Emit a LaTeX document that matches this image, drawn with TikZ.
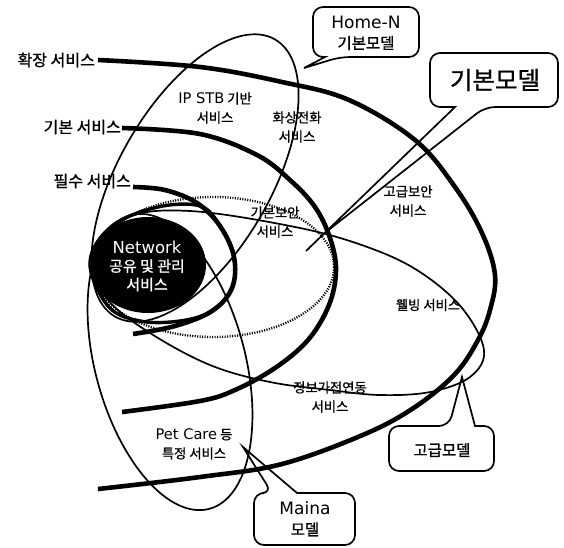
\documentclass[tikz,border=0pt]{standalone}
\usepackage{fontspec}
\setmainfont{Noto Sans CJK KR}[FakeBold=0.9]
\newfontfamily\lat{DejaVu Sans}[Scale=1.1]
\begin{document}
\begin{tikzpicture}[x=1pt,y=-1pt,
  thickc/.style={line width=4.6pt},
  ringc/.style={line width=3.4pt},
  thinc/.style={line width=1.7pt},
  dotc/.style={line width=2.3pt, dash pattern=on 1.1pt off 1.4pt},
  callout/.style={line width=1.7pt},
  lab/.style={inner sep=0pt, align=center, font=\fontsize{13.3}{19}\selectfont},
  side/.style={inner sep=0pt, anchor=east, font=\fontsize{16}{18}\selectfont},
  boxlab/.style={inner sep=0pt, align=center, font=\fontsize{15.5}{20.5}\selectfont}]
\useasboundingbox (0,0) rectangle (564,547);

% black network ellipse
\fill (148,265) ellipse [x radius=58, y radius=48];

% thin ellipses
\draw[thinc, rotate around={60:(195,178)}] (195,178) ellipse [x radius=160, y radius=76];
\draw[thinc, rotate around={105:(170,362)}] (170,362) ellipse [x radius=152, y radius=75];

% dotted ellipse
\draw[dotc] (213,267) ellipse [x radius=121, y radius=70];

% thin advanced loop
\draw[thinc] plot[smooth cycle, tension=0.6] coordinates {
  (90,262) (125,219) (190,211) (300,228) (370,248) (420,272) (462,308)
  (484,350) (470,377) (430,392) (380,395) (330,390) (270,382) (210,365)
  (150,333) (108,300)};

% thick ring around network
\draw[ringc] plot[smooth cycle, tension=0.6] coordinates {
  (90,262) (112,226) (158,207) (200,206) (220,226) (234,257) (232,288)
  (212,311) (180,321) (140,321) (108,306)};

% thick service curves
\draw[thickc] plot[smooth, tension=0.6] coordinates {
  (98,60) (200,67) (282,82) (349,100) (415,140) (455,187) (482,233)
  (495,275) (490,310) (478,340) (455,374) (415,407) (365,434) (282,464)
  (200,477) (98,489)};
\draw[thickc] plot[smooth, tension=0.6] coordinates {
  (122,128) (200,134) (257,155) (290,180) (315,207) (330,238) (336,270)
  (329,305) (308,340) (275,368) (235,390) (200,401) (122,412)};
\draw[thickc] plot[smooth, tension=0.6] coordinates {
  (133,187) (165,190) (197,203) (220,226) (234,257) (232,288) (212,311)
  (175,326) (133,334)};

% side labels
\node[side] (t1) at (95,60) {확장 서비스};
\node[side] (t2) at (121,127) {기본 서비스};
\node[side] (t3) at (131,181) {필수 서비스};

% interior labels
\node[lab] (ipstb) at (215,108) {{\lat IP STB} 기반\\서비스};
\node[lab] (video) at (297,127) {화상전화\\서비스};
\node[lab] (basicsec) at (275,222) {기본보안\\서비스};
\node[lab] (advsec) at (408,201) {고급보안\\서비스};
\node[lab] (well) at (428,305) {웰빙 서비스};
\node[lab] (info) at (330,397) {정보가전연동\\서비스};
\node[lab] (pet) at (194,444) {{\lat Pet Care} 등\\특정 서비스};
\node[lab, text=white, font=\fontsize{15}{18.5}\selectfont] (net) at (147,266) {{\lat Network}\\공유 및 관리\\서비스};

% callouts
\draw[callout] (325,57) [rounded corners=10pt] -- (313,57) -- (313,7) -- (419,7) -- (419,57) -- (340,57) [sharp corners] -- (304,68) -- cycle;
\node[boxlab] (homen) at (366,33) {{\lat Home-N}\\기본모델};

\draw[callout] (306,251) -- (455,107) [rounded corners=10pt] -- (430,107) -- (430,53) -- (558,53) -- (558,107) -- (485,107) [sharp corners] -- (326,232);
\node[inner sep=0pt, font=\fontsize{24.5}{28}\selectfont] (basic) at (495,80) {기본모델};

\draw[callout] (475,426) [rounded corners=10pt] -- (494,426) -- (494,471) -- (389,471) -- (389,426) -- (449,426) [sharp corners] -- (462,377) -- cycle;
\node[boxlab] (adv) at (442,450) {고급모델};

\draw[callout] (297,493) [rounded corners=10pt] -- (355,493) -- (355,545) -- (254,545) -- (254,493) -- (272,493) [sharp corners] -- (243,447) -- cycle;
\node[boxlab] (maina) at (305,519) {{\lat Maina}\\모델};
\end{tikzpicture}
\end{document}
